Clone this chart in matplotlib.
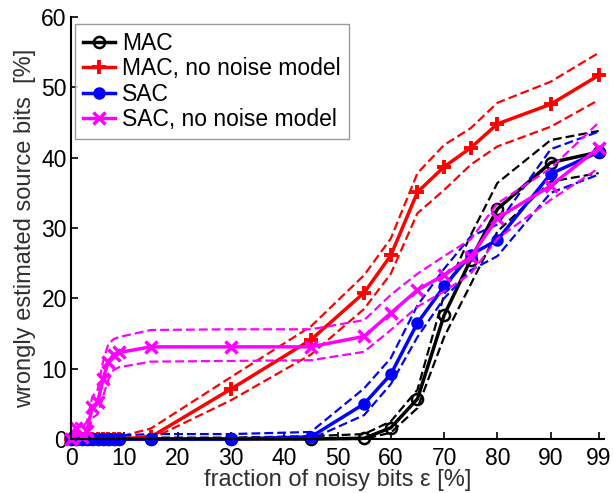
import matplotlib
matplotlib.use("Agg")
import matplotlib.pyplot as plt

plt.rcParams['font.family'] = ['Liberation Sans', 'DejaVu Sans']

x = [0, 1, 2, 3, 4, 5, 6, 7, 8, 9, 15, 30, 45, 55, 60, 65, 70, 75, 80, 90, 99]

mac = [0, 0, 0, 0, 0, 0, 0, 0, 0, 0, 0, 0, 0, 0.1, 1.6, 5.7, 17.6, 25.5, 32.7, 39.3, 40.8]
mac_hi = [0.2, 0.2, 0.2, 0.2, 0.2, 0.2, 0.2, 0.2, 0.2, 0.2, 0.2, 0.2, 0.4, 0.7, 2.5, 7.0, 20.5, 29.0, 36.4, 42.5, 43.8]
mac_lo = [0, 0, 0, 0, 0, 0, 0, 0, 0, 0, 0, 0, 0, 0, 0.9, 4.4, 14.5, 22.0, 29.5, 36.6, 37.8]

macn = [0, 0, 0, 0, 0, 0, 0, 0, 0, 0, 0.3, 7.1, 14.1, 20.8, 26.1, 35.1, 38.7, 41.4, 44.8, 47.6, 51.7]
macn_hi = [0, 0, 0, 0, 0, 0, 0, 0, 0, 0.3, 1.5, 8.8, 16.0, 23.3, 28.5, 37.8, 41.8, 44.2, 47.8, 50.8, 54.9]
macn_lo = [0, 0, 0, 0, 0, 0, 0, 0, 0, 0, 0, 5.5, 12.0, 18.5, 23.5, 32.1, 35.4, 39.0, 41.6, 44.4, 48.2]

sac = [0, 0, 0, 0, 0, 0, 0, 0, 0, 0, 0, 0, 0.3, 5.0, 9.2, 16.5, 21.7, 26.2, 28.3, 37.7, 40.8]
sac_hi = [0.5, 0.5, 0.5, 0.5, 0.5, 0.5, 0.5, 0.5, 0.5, 0.5, 0.7, 0.7, 1.0, 7.2, 11.5, 19.0, 24.2, 28.8, 30.5, 41.2, 43.7]
sac_lo = [0, 0, 0, 0, 0, 0, 0, 0, 0, 0, 0, 0, 0, 3.4, 7.8, 14.5, 20.0, 24.0, 26.0, 35.0, 37.6]

sacn = [0, 1.5, 0.3, 1.2, 4.6, 5.2, 8.5, 11.0, 12.0, 12.3, 13.1, 13.1, 13.1, 14.6, 17.9, 21.2, 23.3, 25.9, 31.4, 36.0, 41.4]
sacn_hi = [0.3, 2.3, 1.5, 2.5, 6.0, 7.0, 11.0, 13.5, 14.2, 14.5, 15.5, 15.6, 15.6, 16.9, 20.5, 23.5, 26.0, 28.4, 33.5, 38.5, 45.0]
sacn_lo = [0, 0.5, 0, 0.3, 3.0, 3.5, 6.0, 8.5, 9.8, 10.2, 11.0, 11.1, 11.2, 12.4, 15.5, 18.8, 21.0, 23.5, 28.5, 34.0, 38.5]

labels = ["MAC", "MAC, no noise model", "SAC", "SAC, no noise model"]
xticks = [0, 10, 20, 30, 40, 50, 60, 70, 80, 90, 99]
yticks = [0, 10, 20, 30, 40, 50, 60]

fig = plt.figure(figsize=(6.13, 4.93), dpi=100)
ax = fig.add_axes([71/613, 1-439/493, 533/613, 422/493])

dash = (0, (4.0, 1.8))
lw_main = 2.5
lw_dash = 1.6

series = [
    (mac, mac_hi, mac_lo, 'black', dict(marker='o', markersize=8, markerfacecolor='none', markeredgewidth=1.8)),
    (macn, macn_hi, macn_lo, '#ff0000', dict(marker='+', markersize=10, markeredgewidth=2.8)),
    (sac, sac_hi, sac_lo, '#0000ff', dict(marker='o', markersize=7.5, markerfacecolor='#0000ff', markeredgewidth=1.5)),
    (sacn, sacn_hi, sacn_lo, '#ff00ff', dict(marker='x', markersize=8, markeredgewidth=2.5)),
]

handles = []
for (m, hi, lo, c, mk), lab in zip(series, labels):
    ax.plot(x, hi, color=c, lw=lw_dash, linestyle=dash)
    ax.plot(x, lo, color=c, lw=lw_dash, linestyle=dash)
    h, = ax.plot(x, m, color=c, lw=lw_main, markeredgecolor=c, label=lab, **mk)
    handles.append(h)

ax.set_xlim(0, 100)
ax.set_ylim(0, 60)
ax.set_xticks(xticks)
ax.set_yticks(yticks)
ax.tick_params(direction='in', length=5, width=1.2, labelsize=16.5, colors='black')
ax.tick_params(axis='x', pad=6)
ax.tick_params(axis='y', pad=3)
for s in ['top', 'right']:
    ax.spines[s].set_visible(False)
for s in ['left', 'bottom']:
    ax.spines[s].set_linewidth(1.5)
for ln in ax.lines:
    ln.set_clip_on(False)

ax.set_xlabel("fraction of noisy bits \u03b5 [%]", fontsize=17, color='#303030', labelpad=-1)
ax.set_ylabel("wrongly estimated source bits  [%]", fontsize=17, color='#303030', labelpad=4)

leg = ax.legend(handles=handles, loc='upper left', bbox_to_anchor=(4/533, 1-7/422),
                borderaxespad=0, fontsize=16.5, frameon=True, fancybox=False,
                handlelength=1.4, handletextpad=0.3, labelspacing=0.1,
                borderpad=0.35)
leg.get_frame().set_edgecolor('#808080')
leg.get_frame().set_linewidth(1.0)

fig.savefig("out.png", dpi=100)
